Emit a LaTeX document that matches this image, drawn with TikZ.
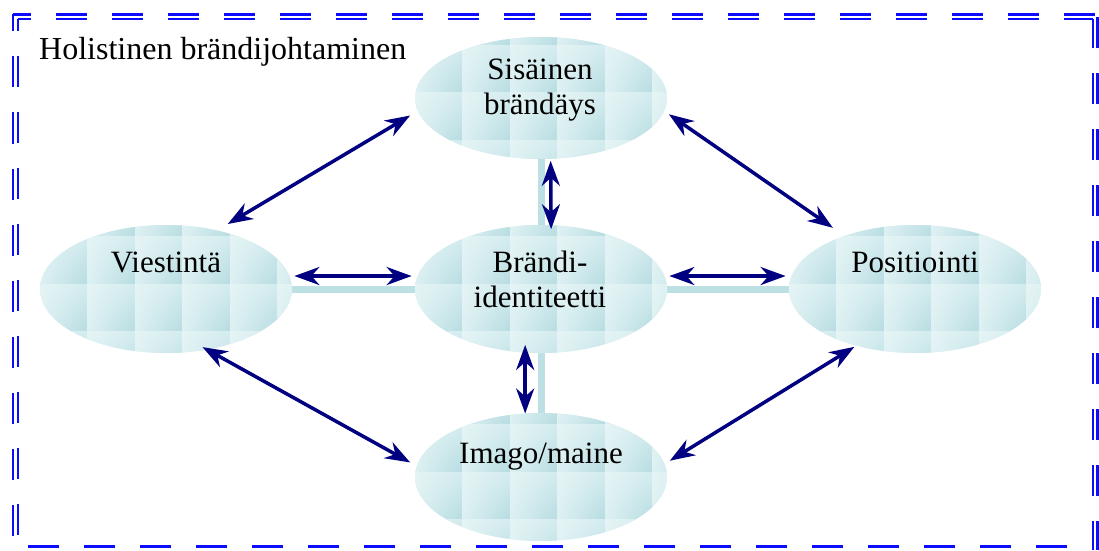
\documentclass[tikz,border=0pt]{standalone}
\usepackage{fontspec}
\setmainfont{Liberation Serif}
\usetikzlibrary{shapes.geometric,arrows.meta,shadings}
\definecolor{framecol}{RGB}{12,12,255}
\definecolor{arrowcol}{RGB}{0,0,128}
\definecolor{barcol}{RGB}{189,224,228}
\definecolor{tilelight}{RGB}{229,244,245}
\definecolor{tilemid}{RGB}{212,236,239}
\definecolor{tilesoft}{RGB}{221,240,242}
\definecolor{tiledark}{RGB}{182,220,225}
\pgfdeclarelayer{bg}
\pgfsetlayers{bg,main}

\begin{document}
\begin{tikzpicture}[x=1pt,y=1pt,
  frameline/.style={draw=framecol,line width=2.6pt,dash pattern=on 31pt off 25pt},
  blob/.style={ellipse,minimum width=252pt,minimum height=#1,inner sep=0pt,outer sep=0pt,fill=tilesoft,
    path picture={
      \foreach \i in {0,...,5}{\foreach \j in {0,...,4}{
        \shade[upper left=tilelight,upper right=tilemid,lower left=tilesoft,lower right=tiledark]
          ({-126+47.5*\i},{100-47.5*\j}) rectangle ++(47.5,-47.5);}}}},
  blob/.default=128pt,
  lbl/.style={font=\fontsize{31}{35}\selectfont,anchor=base,inner sep=0pt},
  link/.style={draw=arrowcol,line width=3.5pt,
    {Stealth[length=25pt,width=18pt,inset=8pt]}-{Stealth[length=25pt,width=18pt,inset=8pt]}},
  bar/.style={draw=barcol,line width=7pt}]

\useasboundingbox (0,0) rectangle (1099,550);

% dashed frame: double on top, left and right, single at the bottom
\draw[frameline,dash phase=13pt] (13,535.5) -- (1097.5,535.5);
\draw[frameline,dash phase=18pt] (18,531) -- (1093,531);
\draw[frameline,dash phase=14pt] (13,535.5) -- (13,13);
\draw[frameline,dash phase=19pt] (18,531) -- (18,13);
\draw[frameline] (1097.5,533) -- (1097.5,0);
\draw[frameline,dash phase=2pt] (1093,531) -- (1093,0);
\draw[frameline] (28,3.5) -- (1092,3.5);

\node[lbl,anchor=base west] (title) at (39,490) {\fontsize{32}{38}\selectfont Holistinen brändijohtaminen};

% the five textured ellipses
\node[blob=122pt] (S) at (541,452) {};
\node[blob] (B) at (541,261) {};
\node[blob] (V) at (166,261) {};
\node[blob] (P) at (915,261) {};
\node[blob] (I) at (541,73) {};

% cross of light bars behind the ellipses
\begin{pgfonlayer}{bg}
  \draw[bar] (V.center) -- (P.center);
  \draw[bar] (S.center) -- (I.center);
\end{pgfonlayer}

% labels
\node[lbl] (tS) at (540,470) {\begin{tabular}[t]{@{}c@{}}Sisäinen\\brändäys\end{tabular}};
\node[lbl] (tB) at (540,278) {\begin{tabular}[t]{@{}c@{}}Brändi-\\identiteetti\end{tabular}};
\node[lbl] (tV) at (166,278) {Viestintä};
\node[lbl] (tP) at (915,278) {Positiointi};
\node[lbl] (tI) at (541,87) {Imago/maine};

% two-way arrows
\draw[link,shorten <=5pt,shorten >=6pt] (V.6) -- (B.174);
\draw[link,shorten <=5pt,shorten >=6pt] (B.6) -- (P.174);
\draw[link,shorten <=2pt,shorten >=-4pt] (S.279) -- (B.81);
\draw[link,shorten <=-7.5pt,shorten >=0pt] (B.256) -- (I.104);
\draw[link,shorten <=12.6pt,shorten >=9pt] (V.49) -- (S.186);
\draw[link,shorten <=5.8pt,shorten >=14.3pt] (S.354) -- (P.143);
\draw[link,shorten <=-5pt,shorten >=7.6pt] (V.304) -- (I.175);
\draw[link,shorten <=6.4pt,shorten >=2.3pt] (I.6) -- (P.224);
\end{tikzpicture}
\end{document}
